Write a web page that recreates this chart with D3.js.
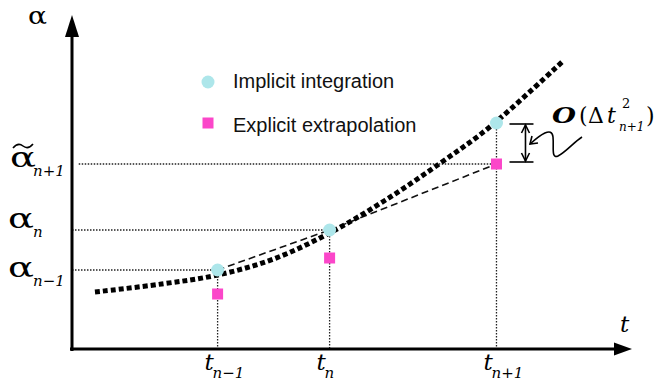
<!DOCTYPE html>
<html>
<head>
<meta charset="utf-8">
<script src="https://cdn.jsdelivr.net/npm/d3@7"></script>
<style>
  html, body { margin: 0; padding: 0; background: #fff; }
  svg { display: block; }
</style>
</head>
<body>
<div id="chart"></div>
<script>
// time stations t_{n-1}, t_n, t_{n+1}
var stepT = [1.30, 2.30, 3.79];
var stepSub = ["n\u22121", "n", "n+1"];
// implicit integration (circles) and explicit extrapolation (squares)
var implicitAlpha = [0.79, 1.19, 2.26];
var explicitAlpha = [0.55, 0.91, 1.85];
// exact solution curve
var curveT = [0.205, 0.8, 1.3, 1.8, 2.3, 2.8, 3.29, 3.73, 4.375];
var curveAlpha = [0.57, 0.65, 0.74, 0.90, 1.16, 1.49, 1.86, 2.22, 2.87];
// y labels
var alphaTicks = [0.79, 1.19, 1.85];
var alphaSub = ["n\u22121", "n", "n+1"];
var alphaTilde = [false, false, true];
var legendLabels = ["Implicit integration", "Explicit extrapolation"];

var SERIF = "DejaVu Serif";
var SANS = "Liberation Sans";

var svgWidth = 656, svgHeight = 387;
var svg = d3.select("#chart").append("svg")
    .attr("width", svgWidth).attr("height", svgHeight);

var x = d3.scaleLinear().domain([0, 5]).range([72, 632]);
var y = d3.scaleLinear().domain([0, 3.34]).range([349, 15]);

var circleColor = "#ade6ea";
var squareColor = "#fb46c9";

function serifText(parent, xPos, yPos, size, str, italic) {
    return parent.append("text")
        .attr("x", xPos).attr("y", yPos)
        .attr("font-family", SERIF)
        .attr("font-size", size)
        .attr("font-style", italic ? "italic" : "normal")
        .attr("fill", "#000")
        .text(str);
}

// dotted guide lines
var guides = svg.append("g")
    .attr("stroke", "#222").attr("stroke-width", 1.3)
    .attr("stroke-dasharray", "1.5,1.5");
guides.append("line").attr("x1", x(0)).attr("x2", x(stepT[0]))
    .attr("y1", y(alphaTicks[0])).attr("y2", y(alphaTicks[0]));
guides.append("line").attr("x1", x(0)).attr("x2", x(stepT[1]))
    .attr("y1", y(alphaTicks[1])).attr("y2", y(alphaTicks[1]));
guides.append("line").attr("x1", x(0.06)).attr("x2", x(stepT[2]))
    .attr("y1", y(alphaTicks[2])).attr("y2", y(alphaTicks[2]));
stepT.forEach(function (t, i) {
    guides.append("line").attr("x1", x(t)).attr("x2", x(t))
        .attr("y1", y(implicitAlpha[i])).attr("y2", y(0));
});

// dashed extrapolation lines
var dashed = svg.append("g")
    .attr("stroke", "#111").attr("stroke-width", 1.6)
    .attr("stroke-dasharray", "7,4").attr("fill", "none");
dashed.append("line")
    .attr("x1", x(stepT[0])).attr("y1", y(implicitAlpha[0]))
    .attr("x2", x(stepT[1])).attr("y2", y(implicitAlpha[1]));
dashed.append("line")
    .attr("x1", x(stepT[1])).attr("y1", y(implicitAlpha[1]))
    .attr("x2", x(stepT[2])).attr("y2", y(explicitAlpha[2]));

// thick dotted solution curve
var line = d3.line()
    .x(function (d) { return x(d[0]); })
    .y(function (d) { return y(d[1]); })
    .curve(d3.curveCatmullRom);
svg.append("path")
    .datum(d3.zip(curveT, curveAlpha))
    .attr("d", line)
    .attr("fill", "none")
    .attr("stroke", "#000")
    .attr("stroke-width", 5)
    .attr("stroke-dasharray", "5,3");

// markers
svg.selectAll("rect.explicit")
    .data(d3.zip(stepT, explicitAlpha))
    .enter().append("rect")
    .attr("class", "explicit")
    .attr("x", function (d) { return x(d[0]) - 5.5; })
    .attr("y", function (d) { return y(d[1]) - 5.5; })
    .attr("width", 11).attr("height", 11)
    .attr("fill", squareColor);
svg.selectAll("circle.implicit")
    .data(d3.zip(stepT, implicitAlpha))
    .enter().append("circle")
    .attr("class", "implicit")
    .attr("cx", function (d) { return x(d[0]); })
    .attr("cy", function (d) { return y(d[1]); })
    .attr("r", 6.5)
    .attr("fill", circleColor);

// axes with arrow heads
svg.append("line").attr("x1", x(0)).attr("x2", x(0))
    .attr("y1", y(0) + 2).attr("y2", y(3.14))
    .attr("stroke", "#000").attr("stroke-width", 3);
svg.append("line").attr("x1", x(0) - 2).attr("x2", x(4.84))
    .attr("y1", y(0)).attr("y2", y(0))
    .attr("stroke", "#000").attr("stroke-width", 3);
svg.append("path")
    .attr("d", "M" + x(0) + "," + y(3.34) + "L" + (x(0) - 7) + "," + y(3.12) +
        "L" + (x(0) + 7) + "," + y(3.12) + "Z")
    .attr("fill", "#000");
svg.append("path")
    .attr("d", "M" + x(5) + "," + y(0) + "L" + (x(5) - 18) + "," + (y(0) - 6.5) +
        "L" + (x(5) - 18) + "," + (y(0) + 6.5) + "Z")
    .attr("fill", "#000");

// axis names
serifText(svg, 28, 24, 24, "\u03b1", false)
    .attr("textLength", 19).attr("lengthAdjust", "spacingAndGlyphs");
serifText(svg, 620, 332, 23, "t", true);

// t labels under the axis
stepT.forEach(function (t, i) {
    serifText(svg, x(t) - 13, 370, 23, "t", true);
    serifText(svg, x(t) - 5, 378, 15, stepSub[i], true);
});

// alpha labels on the left
alphaTicks.forEach(function (a, i) {
    var base = y(a) + (alphaTilde[i] ? 3 : (i === 0 ? 7 : -2));
    serifText(svg, alphaTilde[i] ? 10 : 8, base, 28, "\u03b1", false)
        .attr("textLength", 26).attr("lengthAdjust", "spacingAndGlyphs");
    if (alphaTilde[i]) {
        svg.append("path")
            .attr("d", "M13," + (base - 19) + " q5,-6 10,-2 q5,4 10,-2")
            .attr("fill", "none").attr("stroke", "#000").attr("stroke-width", 1.6);
    }
    serifText(svg, 33, base + 9, 15, alphaSub[i], true);
});

// legend
var legend = svg.append("g");
legend.append("circle").attr("cx", 208).attr("cy", 82).attr("r", 6.5).attr("fill", circleColor);
legend.append("rect").attr("x", 202.5).attr("y", 117.5).attr("width", 11).attr("height", 11)
    .attr("fill", squareColor);
legendLabels.forEach(function (s, i) {
    legend.append("text").attr("x", 233).attr("y", 88 + i * 44)
        .attr("font-family", SANS)
        .attr("font-size", 20).attr("fill", "#111").text(s);
});

// error bracket between circle and square at t_{n+1}
var bx = x(stepT[2]) + 29;
var yTop = y(implicitAlpha[2]) + 1, yBot = y(explicitAlpha[2]) - 2;
var br = svg.append("g").attr("stroke", "#000").attr("stroke-width", 1.6).attr("fill", "none");
br.append("line").attr("x1", bx - 16).attr("x2", bx + 8).attr("y1", yTop).attr("y2", yTop);
br.append("line").attr("x1", bx - 16).attr("x2", bx + 8).attr("y1", yBot).attr("y2", yBot);
br.append("line").attr("x1", bx).attr("x2", bx).attr("y1", yTop + 1).attr("y2", yBot - 1);
br.append("path").attr("d", "M" + (bx - 4) + "," + (yTop + 9) + "L" + bx + "," + (yTop + 1) + "L" + (bx + 4) + "," + (yTop + 9));
br.append("path").attr("d", "M" + (bx - 4) + "," + (yBot - 9) + "L" + bx + "," + (yBot - 1) + "L" + (bx + 4) + "," + (yBot - 9));
// squiggle arrow to the bracket
br.append("path").attr("d", "M530,144 C540,135 552,126 553,137 C554,147 551,159 558,156 C566,152 574,142 582,137");
br.append("path").attr("d", "M532,136 L530,144 L538,143");

// order label
serifText(svg, 552, 123, 22, "O", true).attr("font-weight", "bold")
    .attr("textLength", 24).attr("lengthAdjust", "spacingAndGlyphs");
serifText(svg, 579, 123, 22, "(", false);
serifText(svg, 588, 123, 22, "\u0394", false);
serifText(svg, 607, 123, 22, "t", true);
serifText(svg, 622, 108, 13, "2", false);
serifText(svg, 619, 131, 12, "n+1", true);
serifText(svg, 646, 123, 22, ")", false);
</script>
</body>
</html>
